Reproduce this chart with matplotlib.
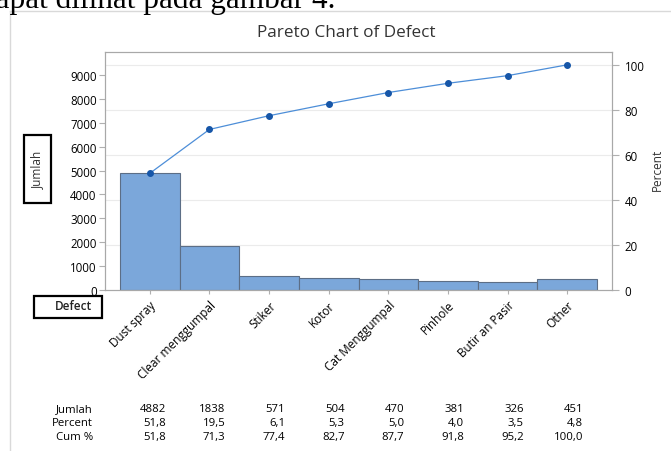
import matplotlib.pyplot as plt
from matplotlib.patches import Rectangle
from matplotlib.lines import Line2D

defects = ["Dust spray", "Clear menggumpal", "Stiker", "Kotor",
           "Cat Menggumpal", "Pinhole", "Butir an Pasir", "Other"]
jumlah = [4882, 1838, 571, 504, 470, 381, 326, 451]
percent = [51.8, 19.5, 6.1, 5.3, 5.0, 4.0, 3.5, 4.8]
cum_pct = [51.8, 71.3, 77.4, 82.7, 87.7, 91.8, 95.2, 100.0]
count_ticks = [0, 1000, 2000, 3000, 4000, 5000, 6000, 7000, 8000, 9000]
pct_ticks = [0, 20, 40, 60, 80, 100]

total = sum(jumlah)
ytop = 9960

plt.rcParams["font.family"] = ["Open Sans", "DejaVu Sans"]
fig = plt.figure(figsize=(6.71, 4.52), dpi=100)

# page text above the graph window
fig.text(-0.03, 0.982, "dapat dilihat pada gambar 4.", family="Liberation Serif",
         fontsize=22.5, va="baseline", ha="left", color="black")
fig.add_artist(Line2D([10 / 671, 10 / 671], [0, 1 - 12 / 452], color="#d9d9d9", lw=1))
fig.add_artist(Line2D([10 / 671, 1], [1 - 12 / 452, 1 - 12 / 452], color="#d9d9d9", lw=1))

ax = fig.add_axes([105 / 671, 1 - 291 / 452, (612 - 105) / 671, (291 - 53) / 452])
x = list(range(len(defects)))
ax.bar(x, jumlah, width=1.0, color="#7ba7da", edgecolor="#5c6e86", linewidth=0.8, zorder=2)
ax.set_xlim(-0.75, len(defects) - 0.25)
ax.set_ylim(0, ytop)
ax.set_yticks(count_ticks)
ax.set_yticks([p * total / 100 for p in pct_ticks], minor=True)
ax.grid(which="minor", axis="y", color="#ebebeb", lw=0.8, zorder=0)
ax.tick_params(which="minor", length=0)
ax.set_xticks(x)
ax.set_xticklabels(defects, rotation=45, ha="right", rotation_mode="anchor", fontsize=8.5)
ax.tick_params(axis="x", length=3, color="#b0b0b0", pad=3)
ax.tick_params(axis="y", which="major", length=4, color="#b0b0b0", labelsize=8.3, pad=2)
for s in ax.spines.values():
    s.set_color("#a8a8a8")
    s.set_linewidth(0.8)

ax2 = ax.twinx()
ax2.set_ylim(0, ytop / total * 100)
ax2.plot(x, cum_pct, color="#4d8ed8", lw=0.9, marker="o", markersize=4,
         markerfacecolor="#1656a8", markeredgecolor="#1656a8", zorder=3)
ax2.set_yticks(pct_ticks)
ax2.tick_params(axis="y", length=5, color="#b0b0b0", labelsize=8.3, pad=4)
for s in ax2.spines.values():
    s.set_color("#a8a8a8")
    s.set_linewidth(0.8)

fig.text(346 / 671, 1 - 33 / 452, "Pareto Chart of Defect", ha="center", va="center",
         fontsize=12.3, color="#333333")
fig.text(657 / 671, 1 - 170 / 452, "Percent", rotation=90, ha="center", va="center",
         fontsize=8.5, color="#333333")

# boxed axis labels
fig.add_artist(Rectangle((24 / 671, 1 - 204 / 452), 27 / 671, 68 / 452, transform=fig.transFigure,
                         fill=False, edgecolor="black", lw=1.6))
fig.text(37.5 / 671, 1 - 170 / 452, "Jumlah", rotation=90, ha="center", va="center",
         fontsize=8.5, color="#333333")
fig.add_artist(Rectangle((34 / 671, 1 - 319 / 452), 68 / 671, 22 / 452, transform=fig.transFigure,
                         fill=False, edgecolor="black", lw=1.6))
fig.text(73 / 671, 1 - 307 / 452, "Defect", ha="center", va="center", fontsize=8.5,
         color="#222222", fontweight="semibold")

# data table under the chart
rows = [("Jumlah", [str(v) for v in jumlah]),
        ("Percent", [f"{v:.1f}".replace(".", ",") for v in percent]),
        ("Cum %", [f"{v:.1f}".replace(".", ",") for v in cum_pct])]
for r, (name, vals) in enumerate(rows):
    yf = 1 - (409.5 + 14 * r) / 452
    fig.text(93 / 671, yf, name, ha="right", va="center", fontsize=8.2)
    for i, v in enumerate(vals):
        xd = ax.transData.transform((i + 0.27, 0))[0] / fig.dpi / 6.71
        fig.text(xd, yf, v, ha="right", va="center", fontsize=8.2)

fig.savefig("out.png", dpi=100)
